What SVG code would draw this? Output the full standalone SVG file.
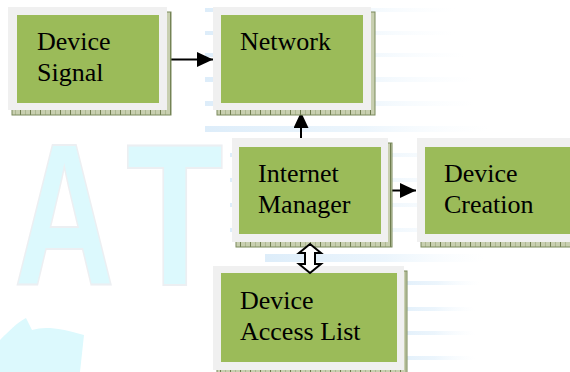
<svg xmlns="http://www.w3.org/2000/svg" width="570" height="372" viewBox="0 0 570 372">
  <defs>
    <linearGradient id="stripeFade" x1="0" y1="0" x2="1" y2="0">
      <stop offset="0" stop-color="#d2e7f8" stop-opacity="0.75"/>
      <stop offset="0.55" stop-color="#dcedfa" stop-opacity="0.55"/>
      <stop offset="1" stop-color="#eef7fd" stop-opacity="0"/>
    </linearGradient>
    <pattern id="hatch" width="10" height="10" patternUnits="userSpaceOnUse">
      <rect width="10" height="10" fill="#c8cfb0"/>
      <line x1="0.5" y1="0" x2="0.5" y2="10" stroke="#6f7d4f" stroke-width="1"/>
      <line x1="5.5" y1="0" x2="5.5" y2="10" stroke="#9aa67d" stroke-width="0.6"/>
    </pattern>
    <marker id="head" viewBox="0 0 16 15" refX="16" refY="7.5" markerWidth="16" markerHeight="15" markerUnits="userSpaceOnUse" orient="auto">
      <path d="M0,0 L16,7.5 L0,15 Z" fill="#000"/>
    </marker>
  </defs>
  <style>
    .shadow { fill: url(#hatch); stroke: #7b8a5c; stroke-width: 1; }
    .frame { fill: #f0f0f0; }
    .body { fill: #9bbb59; }
    .label { font-family: "Liberation Serif", "Times New Roman", serif; font-size: 26px; fill: #000; }
    .wm { font-family: "Liberation Sans", Arial, sans-serif; font-weight: bold; font-size: 202px; fill: #dcf9fd; stroke: #eceff2; stroke-width: 2; }
    .stripe { fill: url(#stripeFade); }
    .link { stroke: #000; stroke-width: 2; fill: none; }
  </style>

  <rect width="570" height="372" fill="#ffffff"/>

  <!-- faint background watermark -->
  <g id="watermark">
    <g>
      <rect class="stripe" x="205" y="8" width="250" height="4"/>
      <rect class="stripe" x="205" y="31" width="250" height="4"/>
      <rect class="stripe" x="205" y="53" width="260" height="4"/>
      <rect class="stripe" x="205" y="77" width="270" height="5"/>
      <rect class="stripe" x="205" y="101" width="270" height="5"/>
      <rect class="stripe" x="205" y="126" width="285" height="6"/>
      <rect class="stripe" x="230" y="153" width="260" height="4"/>
      <rect class="stripe" x="230" y="178" width="260" height="4"/>
      <rect class="stripe" x="230" y="203" width="260" height="4"/>
      <rect class="stripe" x="230" y="228" width="260" height="4"/>
      <rect class="stripe" x="265" y="254" width="220" height="8"/>
      <rect class="stripe" x="385" y="281" width="95" height="4"/>
      <rect class="stripe" x="385" y="307" width="90" height="4"/>
      <rect class="stripe" x="385" y="331" width="90" height="4"/>
      <rect class="stripe" x="385" y="356" width="90" height="4"/>
    </g>
    <text class="wm" transform="translate(14,285) scale(0.69,1)">A</text>
    <text class="wm" transform="translate(126,285) scale(0.79,1)">T</text>
    <path d="M0,340 C10,330 18,322 26,318 L32,330 C45,326 60,328 84,335 L80,372 L0,372 Z" fill="#dcf9fd"/>
  </g>

  <!-- connectors -->
  <g id="connectors">
    <line class="link" x1="167" y1="59.5" x2="213" y2="59.5" marker-end="url(#head)"/>
    <line class="link" x1="301" y1="138" x2="301" y2="112" marker-end="url(#head)"/>
    <line class="link" x1="388" y1="190.5" x2="416" y2="190.5" marker-end="url(#head)"/>
  </g>

  <!-- boxes -->
  <g id="device-signal">
    <rect class="shadow" x="12" y="12" width="159" height="103"/>
    <rect class="frame" x="8" y="7" width="159" height="103"/>
    <rect class="body" x="17" y="15" width="142" height="88"/>
    <text class="label" x="37" y="50">Device</text>
    <text class="label" x="37" y="81">Signal</text>
  </g>

  <g id="network">
    <rect class="shadow" x="217" y="12" width="158" height="103"/>
    <rect class="frame" x="213" y="7" width="158" height="103"/>
    <rect class="body" x="221" y="15" width="142" height="88"/>
    <text class="label" x="240" y="50">Network</text>
  </g>

  <g id="internet-manager">
    <rect class="shadow" x="236" y="143" width="156" height="104"/>
    <rect class="frame" x="232" y="138" width="156" height="104"/>
    <rect class="body" x="239" y="147" width="142" height="87"/>
    <text class="label" x="258" y="182">Internet</text>
    <text class="label" x="258" y="213">Manager</text>
  </g>

  <g id="device-creation">
    <rect class="shadow" x="421" y="143" width="160" height="104"/>
    <rect class="frame" x="417" y="138" width="160" height="104"/>
    <rect class="body" x="425" y="147" width="150" height="87"/>
    <text class="label" x="444" y="182">Device</text>
    <text class="label" x="444" y="213">Creation</text>
  </g>

  <g id="device-access-list">
    <rect class="shadow" x="217" y="271" width="190" height="104"/>
    <rect class="frame" x="213" y="266" width="191" height="104"/>
    <rect class="body" x="221" y="273" width="176" height="89"/>
    <text class="label" x="240" y="309">Device</text>
    <text class="label" x="240" y="340">Access List</text>
  </g>

  <!-- two-way link between Internet Manager and Device Access List -->
  <g id="two-way-link">
    <path d="M310,244 L321,253 L315,253 L315,264 L321,264 L310,273 L299,264 L305,264 L305,253 L299,253 Z" fill="#ffffff" stroke="#000" stroke-width="2" stroke-linejoin="miter"/>
  </g>
</svg>
